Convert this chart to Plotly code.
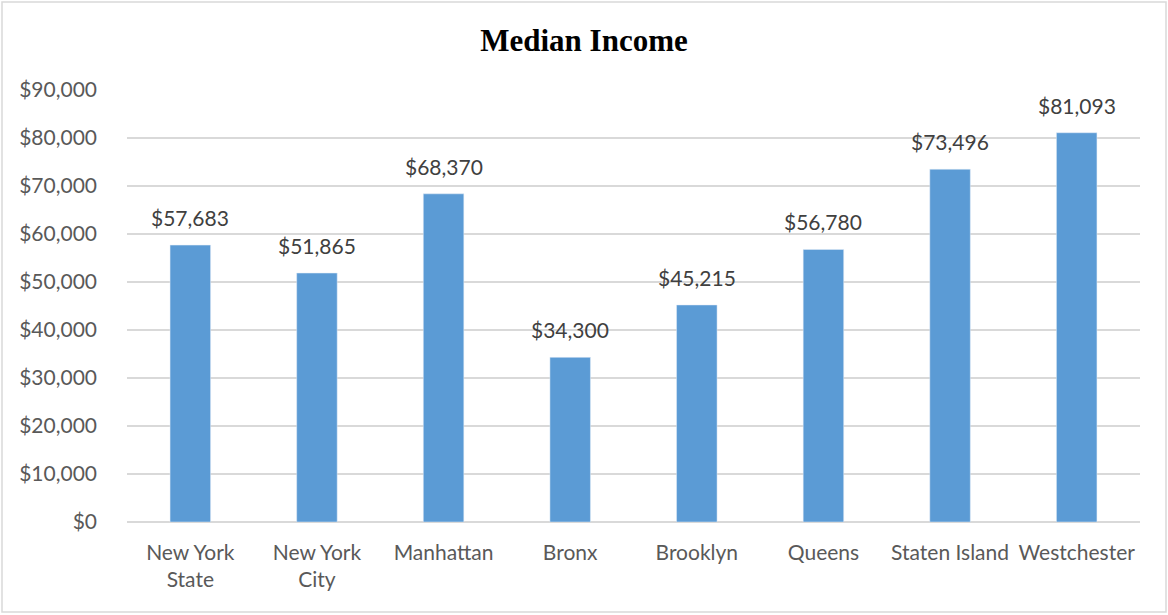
import plotly.graph_objects as go

categories = ["New York<br>State", "New York<br>City", "Manhattan", "Bronx", "Brooklyn",
              "Queens", "Staten Island", "Westchester"]
values = [57683, 51865, 68370, 34300, 45215, 56780, 73496, 81093]
tick_vals = [0, 10000, 20000, 30000, 40000, 50000, 60000, 70000, 80000, 90000]
tick_text = ["$0", "$10,000", "$20,000", "$30,000", "$40,000", "$50,000",
             "$60,000", "$70,000", "$80,000", "$90,000"]
labels = ["${:,}".format(v) for v in values]

L, R, T, B = 127, 28, 90, 93
W, H = 1168, 615
pw, ph = W - L - R, H - T - B

fig = go.Figure()
fig.add_trace(go.Bar(
    x=categories, y=values,
    marker=dict(color="#5B9BD5"), width=0.32, hoverinfo="x+y",
))

annotations = [dict(x=c, y=v, text=t, xref="x", yref="y", showarrow=False,
                    yanchor="bottom", yshift=13,
                    font=dict(family="Lato", size=21, color="#404040"))
               for c, v, t in zip(categories, values, labels)]

fig.update_layout(
    width=W, height=H,
    margin=dict(l=L, r=R, t=T, b=B),
    paper_bgcolor="white", plot_bgcolor="white",
    title=dict(text="<b>Median Income</b>", x=0.5, xanchor="center", y=1 - 40 / H, yanchor="middle",
               font=dict(family="Liberation Serif", size=31, color="black")),
    showlegend=False,
    annotations=annotations,
    xaxis=dict(tickfont=dict(family="Lato", size=21, color="#595959"), showgrid=False,
               showline=False, ticks="", ticklabelstandoff=16),
    yaxis=dict(range=[0, 90000], tickvals=tick_vals, ticktext=tick_text,
               tickfont=dict(family="Lato", size=21, color="#595959"),
               showgrid=True, gridcolor="#d9d9d9", gridwidth=1.5, zeroline=True,
               zerolinecolor="#d9d9d9", zerolinewidth=1.5, ticks="", ticklabelstandoff=29),
    shapes=[dict(type="rect", xref="paper", yref="paper",
                 x0=(2 - L) / pw, x1=(1166 - L) / pw,
                 y0=(H - B - 612) / ph, y1=(H - B - 2) / ph,
                 line=dict(color="#d9d9d9", width=1.5), fillcolor="rgba(0,0,0,0)")],
)

fig.write_html("out.html", config={"displayModeBar": False},
               post_script="document.body.style.margin='0px';document.body.style.overflow='hidden';")
